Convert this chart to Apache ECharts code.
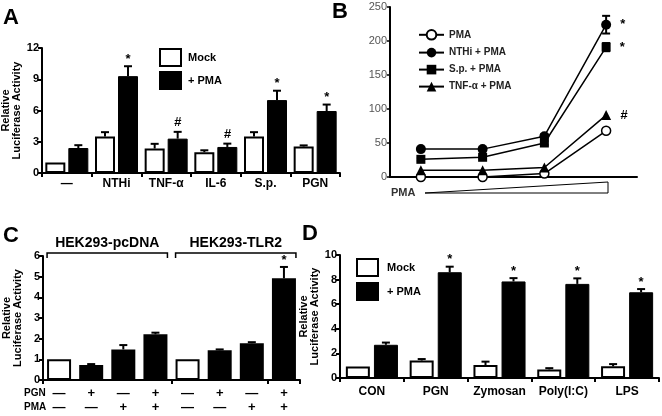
<!DOCTYPE html>
<html>
<head>
<meta charset="utf-8">
<script src="https://cdn.jsdelivr.net/npm/echarts@6/dist/echarts.min.js"></script>
<style>
html,body{margin:0;padding:0;background:#fff;}
#chart{width:662px;height:416px;}
</style>
</head>
<body>
<div id="chart"></div>
<script>
// ---------- Panel A ----------
const aCategories = ['—', 'NTHi', 'TNF-α', 'IL-6', 'S.p.', 'PGN'];
const aMock = [1.0, 3.5, 2.35, 2.0, 3.5, 2.55];
const aMockErr = [0, 0.42, 0.45, 0.18, 0.42, 0.1];
const aPMA = [2.4, 9.3, 3.3, 2.5, 7.0, 5.95];
const aPMAErr = [0.27, 0.95, 0.65, 0.32, 0.9, 0.62];
const aMarks = ['', '*', '#', '#', '*', '*'];
const aTicks = [0, 3, 6, 9, 12];

// ---------- Panel B ----------
const bDoses = ['1', '2', '3', '4'];
const bPMA = [0, 0, 5, 68];
const bNTHi = [41, 41, 60, 224];
const bNTHiErr = [2, 2, 3, 13];
const bSp = [26, 29, 50, 191];
const bSpErr = [2, 2, 3, 6];
const bTNF = [10, 10, 14, 91];
const bTicks = [0, 50, 100, 150, 200, 250];
const bMarks = {'PMA': '', 'NTHi + PMA': '*', 'S.p. + PMA': '*', 'TNF-α + PMA': '#'};

// ---------- Panel C ----------
const cPGN = ['—', '+', '—', '+', '—', '+', '—', '+'];
const cPMA = ['—', '—', '+', '+', '—', '—', '+', '+'];
const cValues = [1.0, 0.72, 1.48, 2.21, 1.0, 1.44, 1.78, 4.92];
const cErr = [0, 0.05, 0.21, 0.08, 0, 0.04, 0.05, 0.55];
const cMarks = ['', '', '', '', '', '', '', '*'];
const cGroups = ['HEK293-pcDNA', 'HEK293-TLR2'];
const cTicks = [0, 1, 2, 3, 4, 5, 6];

// ---------- Panel D ----------
const dCategories = ['CON', 'PGN', 'Zymosan', 'Poly(I:C)', 'LPS'];
const dMock = [0.93, 1.42, 1.05, 0.7, 0.95];
const dMockErr = [0, 0.12, 0.28, 0.1, 0.18];
const dPMA = [2.7, 8.6, 7.85, 7.65, 6.97];
const dPMAErr = [0.18, 0.45, 0.27, 0.45, 0.26];
const dMarks = ['', '*', '*', '*', '*'];
const dTicks = [0, 2, 4, 6, 8, 10];

const FONT = "'Liberation Sans Narrow', 'Liberation Sans', Arial, sans-serif";
const FONT2 = "'Liberation Sans', Arial, sans-serif";
const yName = 'Relative\nLuciferase Activity';

const chart = echarts.init(document.getElementById('chart'), null, {renderer: 'canvas'});

function errBars(xIdx, yIdx, vals, errs, marks, offset, both) {
  return {
    type: 'custom', xAxisIndex: xIdx, yAxisIndex: yIdx, z: 10, silent: true,
    data: vals.map((v, i) => [i, v, errs[i]]),
    renderItem: function (params, api) {
      const i = api.value(0), v = api.value(1), e = api.value(2);
      const base = api.coord([i, both ? v - e : v]);
      const top = api.coord([i, v + e]);
      const x = base[0] + offset;
      const ch = [];
      if (e > 0) {
        ch.push({type: 'line', shape: {x1: x, y1: base[1], x2: x, y2: top[1]}, style: {stroke: '#000', lineWidth: 2}});
        ch.push({type: 'line', shape: {x1: x - 4, y1: top[1], x2: x + 4, y2: top[1]}, style: {stroke: '#000', lineWidth: 2}});
        if (both) ch.push({type: 'line', shape: {x1: x - 4, y1: base[1], x2: x + 4, y2: base[1]}, style: {stroke: '#000', lineWidth: 2}});
      }
      const m = marks ? marks[params.dataIndex] : '';
      if (m) {
        ch.push({type: 'text', x: x, y: top[1] - (m === '#' ? 9 : 7), style: {
          text: m, fill: '#000', font: (m === '#' ? 'italic bold 13px ' : 'bold 13px ') + FONT2,
          textAlign: 'center', textVerticalAlign: 'middle'}});
      }
      return {type: 'group', children: ch};
    }
  };
}

function valAxis(grid, max, interval, showName, nameGap) {
  return {
    type: 'value', gridIndex: grid, min: 0, max: max, interval: interval,
    name: showName ? yName : '', nameLocation: 'middle', nameGap: nameGap, nameRotate: 90,
    nameTextStyle: {fontFamily: FONT, fontWeight: 'bold', fontSize: 11, lineHeight: 11, color: '#000'},
    axisLine: {show: true, lineStyle: {color: '#000', width: 2}},
    axisTick: {show: true, length: 4, lineStyle: {color: '#000', width: 2}},
    axisLabel: {fontFamily: FONT, fontWeight: 'bold', fontSize: 11, color: '#000', margin: 3},
    splitLine: {show: false}
  };
}

const whiteBar = {color: '#fff', borderColor: '#000', borderWidth: 2};
const blackBar = {color: '#000', borderColor: '#000', borderWidth: 1};

const option = {
  animation: false,
  backgroundColor: '#fff',
  textStyle: {fontFamily: FONT},
  grid: [
    {left: 42, top: 48, width: 298, height: 125, containLabel: false, outerBoundsMode: 'none'},
    {left: 390, top: 7, width: 247, height: 170, containLabel: false, outerBoundsMode: 'none'},
    {left: 43, top: 256, width: 257, height: 124, containLabel: false, outerBoundsMode: 'none'},
    {left: 340, top: 255, width: 319, height: 123, containLabel: false, outerBoundsMode: 'none'}
  ],
  legend: [
    {data: ['Mock', '+ PMA'], icon: 'rect', orient: 'vertical', left: 159, top: 48, itemWidth: 21, itemHeight: 17, itemGap: 4,
     selectedMode: false, textStyle: {fontFamily: FONT, fontWeight: 'bold', fontSize: 11, color: '#000', padding: [0,0,0,2]}, padding: 0},
    {data: ['Mock', '+ PMA'], icon: 'rect', orient: 'vertical', left: 356, top: 258, itemWidth: 21, itemHeight: 17, itemGap: 5,
     selectedMode: false, textStyle: {fontFamily: FONT, fontWeight: 'bold', fontSize: 11, color: '#000', padding: [0,0,0,4]}, padding: 0},
    {data: ['PMA', 'NTHi + PMA', 'S.p. + PMA', 'TNF-α + PMA'], orient: 'vertical', left: 418, top: 29,
     itemWidth: 25, itemHeight: 12, itemGap: 7, selectedMode: false, padding: 0,
     textStyle: {fontFamily: FONT, fontWeight: 'bold', fontSize: 10, color: '#222'}}
  ],
  xAxis: [
    {type: 'category', gridIndex: 0, data: aCategories,
     axisLine: {lineStyle: {color: '#000', width: 2}},
     axisTick: {show: true, length: 4, lineStyle: {color: '#000', width: 2}},
     axisLabel: {interval: 0, fontFamily: FONT, fontWeight: 'bold', fontSize: 12, color: '#000', margin: 5}},
    {type: 'category', gridIndex: 1, data: bDoses, boundaryGap: true,
     axisLine: {lineStyle: {color: '#000', width: 2}}, axisTick: {show: false}, axisLabel: {show: false}},
    {type: 'category', gridIndex: 2, data: cPGN.map((p, i) => p + '\n' + cPMA[i]),
     axisLine: {lineStyle: {color: '#000', width: 2}},
     axisTick: {show: true, interval: 3, length: 4, lineStyle: {color: '#000', width: 2}},
     axisLabel: {interval: 0, fontFamily: FONT2, fontWeight: 'bold', fontSize: 13, lineHeight: 14, color: '#000', margin: 6}},
    {type: 'category', gridIndex: 3, data: dCategories,
     axisLine: {lineStyle: {color: '#000', width: 2}},
     axisTick: {show: true, length: 4, lineStyle: {color: '#000', width: 2}},
     axisLabel: {interval: 0, fontFamily: FONT, fontWeight: 'bold', fontSize: 12, color: '#000', margin: 8}}
  ],
  yAxis: [
    valAxis(0, aTicks[aTicks.length - 1], aTicks[1] - aTicks[0], true, 20),
    {type: 'value', gridIndex: 1, min: 0, max: bTicks[bTicks.length - 1], interval: bTicks[1] - bTicks[0],
     axisLine: {show: true, lineStyle: {color: '#000', width: 2}},
     axisTick: {show: true, length: 3, lineStyle: {color: '#000', width: 1.5}},
     axisLabel: {fontFamily: FONT2, fontSize: 11, color: '#555', margin: 3},
     splitLine: {show: false}},
    valAxis(2, cTicks[cTicks.length - 1], cTicks[1] - cTicks[0], true, 20),
    valAxis(3, dTicks[dTicks.length - 1], dTicks[1] - dTicks[0], true, 20)
  ],
  series: [
    // A
    {name: 'Mock', type: 'bar', xAxisIndex: 0, yAxisIndex: 0, data: aMock, barWidth: 20, barGap: '15%', itemStyle: whiteBar},
    {name: '+ PMA', type: 'bar', xAxisIndex: 0, yAxisIndex: 0, data: aPMA, barWidth: 20, barGap: '15%', itemStyle: blackBar},
    errBars(0, 0, aMock, aMockErr, null, -11.5, false),
    errBars(0, 0, aPMA, aPMAErr, aMarks, 11.5, false),
    // B
    {name: 'PMA', type: 'line', xAxisIndex: 1, yAxisIndex: 1, data: bPMA, symbol: 'circle', symbolSize: 9,
     lineStyle: {color: '#000', width: 1.5}, itemStyle: {color: '#fff', borderColor: '#000', borderWidth: 1.5}, z: 3},
    {name: 'NTHi + PMA', type: 'line', xAxisIndex: 1, yAxisIndex: 1, data: bNTHi, symbol: 'circle', symbolSize: 10,
     lineStyle: {color: '#000', width: 1.5}, itemStyle: {color: '#000'}, z: 3},
    {name: 'S.p. + PMA', type: 'line', xAxisIndex: 1, yAxisIndex: 1, data: bSp, symbol: 'rect', symbolSize: 9,
     lineStyle: {color: '#000', width: 1.5}, itemStyle: {color: '#000'}, z: 3},
    {name: 'TNF-α + PMA', type: 'line', xAxisIndex: 1, yAxisIndex: 1, data: bTNF, symbol: 'triangle', symbolSize: 10,
     lineStyle: {color: '#000', width: 1.5}, itemStyle: {color: '#000'}, z: 3},
    errBars(1, 1, bNTHi, bNTHiErr, null, 0, true),
    errBars(1, 1, bSp, bSpErr, null, 0, true),
    // C
    {name: 'C values', type: 'bar', xAxisIndex: 2, yAxisIndex: 2, data: cValues, barWidth: 24,
     itemStyle: {borderColor: '#000', borderWidth: 2,
       color: p => (cPGN[p.dataIndex] === '—' && cPMA[p.dataIndex] === '—') ? '#fff' : '#000'}},
    errBars(2, 2, cValues, cErr, cMarks, 0, false),
    // D
    {name: 'Mock', type: 'bar', xAxisIndex: 3, yAxisIndex: 3, data: dMock, barWidth: 24, barGap: '17%', itemStyle: whiteBar},
    {name: '+ PMA', type: 'bar', xAxisIndex: 3, yAxisIndex: 3, data: dPMA, barWidth: 24, barGap: '17%', itemStyle: blackBar},
    errBars(3, 3, dMock, dMockErr, null, -14, false),
    errBars(3, 3, dPMA, dPMAErr, dMarks, 14, false)
  ],
  graphic: []
};

// B significance marks next to the last point
option.series.forEach(s => {
  if (s.type === 'line' && bMarks[s.name]) {
    s.label = {show: true, position: 'right', distance: 9,
      formatter: p => p.dataIndex === bDoses.length - 1 ? bMarks[s.name] : '',
      fontFamily: FONT2, fontWeight: 'bold', fontSize: 13, color: '#000',
      fontStyle: bMarks[s.name] === '#' ? 'italic' : 'normal'};
  }
});

chart.setOption(option);

// Decorations: panel letters, PMA wedge, C bracket headers and row labels
const g = [];
const letter = (t, x, y) => g.push({type: 'text', x: x, y: y, style: {text: t, font: 'bold 22px ' + FONT2, fill: '#000', textVerticalAlign: 'top'}});
letter('A', 3, 7);
letter('B', 332, 1);
letter('C', 3, 225);
letter('D', 302, 223);

g.push({type: 'polygon', shape: {points: [[425, 193], [608, 182], [608, 193]]}, style: {fill: '#fff', stroke: '#000', lineWidth: 1}});
g.push({type: 'text', x: 391, y: 193, style: {text: 'PMA', font: 'bold 11px ' + FONT2, fill: '#333', textVerticalAlign: 'middle'}});

// brackets above groups in C, spanning the group's bars
const half = cValues.length / 2;
cGroups.forEach((name, k) => {
  const x1 = chart.convertToPixel({xAxisIndex: 2}, k * half) - 12;
  const x2 = chart.convertToPixel({xAxisIndex: 2}, k * half + half - 1) + 12;
  const y = 253;
  g.push({type: 'polyline', shape: {points: [[x1, y + 5], [x1, y], [x2, y], [x2, y + 5]]}, style: {stroke: '#000', lineWidth: 1.5, fill: null}});
  g.push({type: 'text', x: (x1 + x2) / 2, y: y - 3, style: {text: name, font: 'bold 14px ' + FONT, fill: '#000', textAlign: 'center', textVerticalAlign: 'bottom'}});
});
g.push({type: 'text', x: 24, y: 393, style: {text: 'PGN', font: 'bold 10px ' + FONT, fill: '#000', textVerticalAlign: 'middle'}});
g.push({type: 'text', x: 24, y: 407, style: {text: 'PMA', font: 'bold 10px ' + FONT, fill: '#000', textVerticalAlign: 'middle'}});

chart.setOption({graphic: g});
</script>
</body>
</html>
